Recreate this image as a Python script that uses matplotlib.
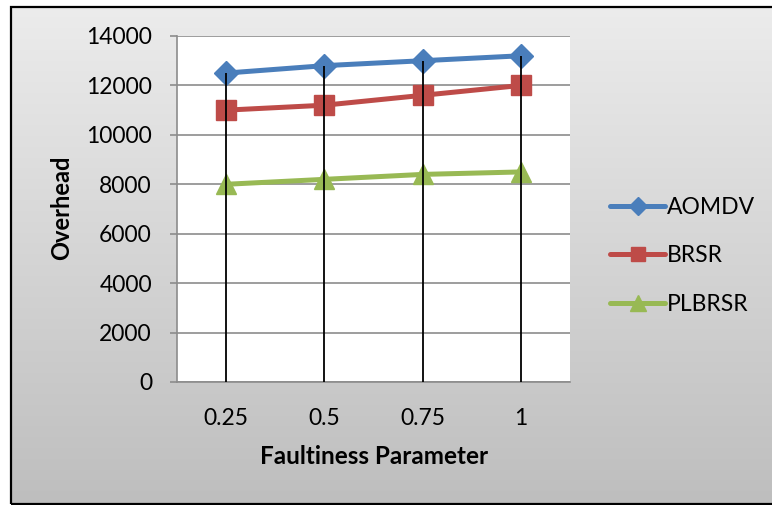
import numpy as np
import matplotlib
matplotlib.use("Agg")
import matplotlib.pyplot as plt
from matplotlib.patches import Rectangle

categories = ["0.25", "0.5", "0.75", "1"]
aomdv = [12500, 12800, 13000, 13200]
brsr = [11000, 11200, 11600, 12000]
plbrsr = [8000, 8200, 8400, 8500]
yticks = [0, 2000, 4000, 6000, 8000, 10000, 12000, 14000]

W, H = 772, 505
plt.rcParams["font.family"] = ["Lato", "DejaVu Sans"]

fig = plt.figure(figsize=(W / 100, H / 100), dpi=100)
fig.patch.set_facecolor("white")

# gradient chart-area background
bg = fig.add_axes([0, 0, 1, 1], zorder=-10)
grad = np.linspace(0, 1, 256).reshape(-1, 1)
top, bot = np.array([0.925, 0.925, 0.925]), np.array([0.745, 0.745, 0.745])
img = top + (bot - top) * grad[..., None]
bg.imshow(img, aspect="auto", extent=[11 / W, 1, 1 - 503 / H, 1 - 7 / H],
          transform=bg.transAxes)
bg.set_xlim(0, 1)
bg.set_ylim(0, 1)
bg.axis("off")
bg.add_patch(Rectangle((11 / W, 1 - 504 / H), 1.0, (504 - 7) / H,
                       transform=bg.transAxes, fill=False, edgecolor="black",
                       linewidth=1.6))

ax = fig.add_axes([177 / W, (H - 382) / H, 393 / W, 346 / H])
ax.set_facecolor("white")
x = np.arange(len(categories))

ax.plot(x, aomdv, color="#4a7ebb", lw=3.6, marker="D", ms=12,
        label="AOMDV", zorder=3, solid_capstyle="round")
ax.plot(x, brsr, color="#be4b48", lw=3.6, marker="s", ms=14,
        label="BRSR", zorder=3, solid_capstyle="round")
ax.plot(x, plbrsr, color="#98b954", lw=3.6, marker="^", ms=15,
        label="PLBRSR", zorder=3, solid_capstyle="round")

highs = np.max([aomdv, brsr, plbrsr], axis=0)
ax.vlines(x, 0, highs, color="black", lw=1.3, zorder=4)

ax.set_xlim(-0.5, len(categories) - 0.5)
ax.set_ylim(0, 14000)
ax.set_yticks(yticks)
ax.set_yticklabels([str(v) for v in yticks])
ax.set_xticks(x)
ax.set_xticklabels(categories)
ax.yaxis.grid(True, color="#8c8c8c", lw=1.2, zorder=0)
ax.set_axisbelow(True)
for s in ["top", "right"]:
    ax.spines[s].set_visible(False)
for s in ["left", "bottom"]:
    ax.spines[s].set_color("#8c8c8c")
    ax.spines[s].set_linewidth(1.2)
ax.tick_params(axis="y", length=5, width=1.2, color="#8c8c8c", pad=13,
               labelsize=16.5)
ax.tick_params(axis="x", length=0, pad=19, labelsize=16.5)

fig.text(62 / W, 1 - 208 / H, "Overhead", rotation=90, ha="center",
         va="center", fontsize=17, fontweight="bold")
fig.text(374 / W, 1 - 457 / H, "Faultiness Parameter", ha="center",
         va="center", fontsize=17.5, fontweight="bold")

ax.legend(loc="center left", bbox_to_anchor=(610 / W, 1 - 256 / H),
          bbox_transform=fig.transFigure, frameon=False, fontsize=16.5,
          handlelength=2.4, handletextpad=0.1, labelspacing=1.2,
          markerscale=0.75, borderaxespad=0, borderpad=0)

fig.savefig("out.png", dpi=100)
